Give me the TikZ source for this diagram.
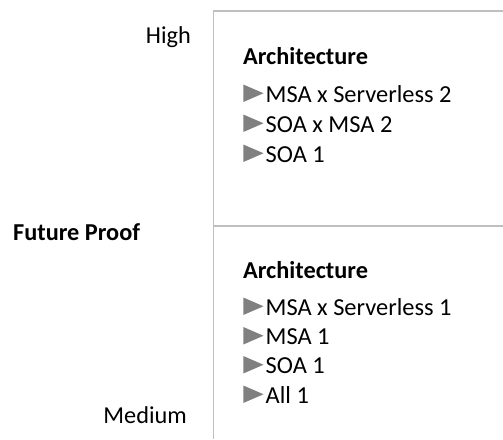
\documentclass[tikz,border=0pt]{standalone}
\usepackage{fontspec}
\setmainfont{Carlito}
\begin{document}
\begin{tikzpicture}[x=1pt,y=-1pt,
  frame/.style={draw=gray!50,line width=1.4pt},
  axislabel/.style={inner sep=0pt,font=\fontsize{24.3}{28}\selectfont},
  heading/.style={inner sep=0pt,anchor=base west,font=\bfseries\fontsize{24.3}{28}\selectfont},
  entry/.style={inner sep=0pt,anchor=base west,font=\fontsize{24.4}{28}\selectfont},
  bullet/.style={fill=black!50}]
\useasboundingbox (0,0) rectangle (503,439);

% quadrant frame
\coordinate (tl) at (213.5,11);
\coordinate (tr) at (503,11);
\coordinate (ml) at (213.5,226);
\coordinate (mr) at (503,226);
\coordinate (bl) at (213.5,439);
\draw[frame] (tr) -- (tl) -- (bl);
\draw[frame] (ml) -- (mr);

% axis labels
\node[axislabel,anchor=base east] (high) at (191,43) {High};
\node[axislabel,anchor=base west,font=\bfseries\fontsize{24.3}{28}\selectfont] (fp) at (13,240) {Future Proof};
\node[axislabel,anchor=base east] (medium) at (187,423) {Medium};

% one bulleted row: name, baseline, text
\newcommand\listrow[3]{%
  \fill[bullet] (243.3,#2-17.5) -- (263.5,#2-8.75) -- (243.3,#2) -- cycle;
  \node[entry] (#1) at (265.5,#2) {#3};}

% upper quadrant
\node[heading] (archA) at (243,64) {Architecture};
\listrow{a1}{102}{MSA x Serverless 2}
\listrow{a2}{132}{SOA x MSA 2}
\listrow{a3}{162}{SOA 1}

% lower quadrant
\node[heading] (archB) at (243,278) {Architecture};
\listrow{b1}{315}{MSA x Serverless 1}
\listrow{b2}{344.5}{MSA 1}
\listrow{b3}{373.5}{SOA 1}
\listrow{b4}{403}{All 1}
\end{tikzpicture}
\end{document}
